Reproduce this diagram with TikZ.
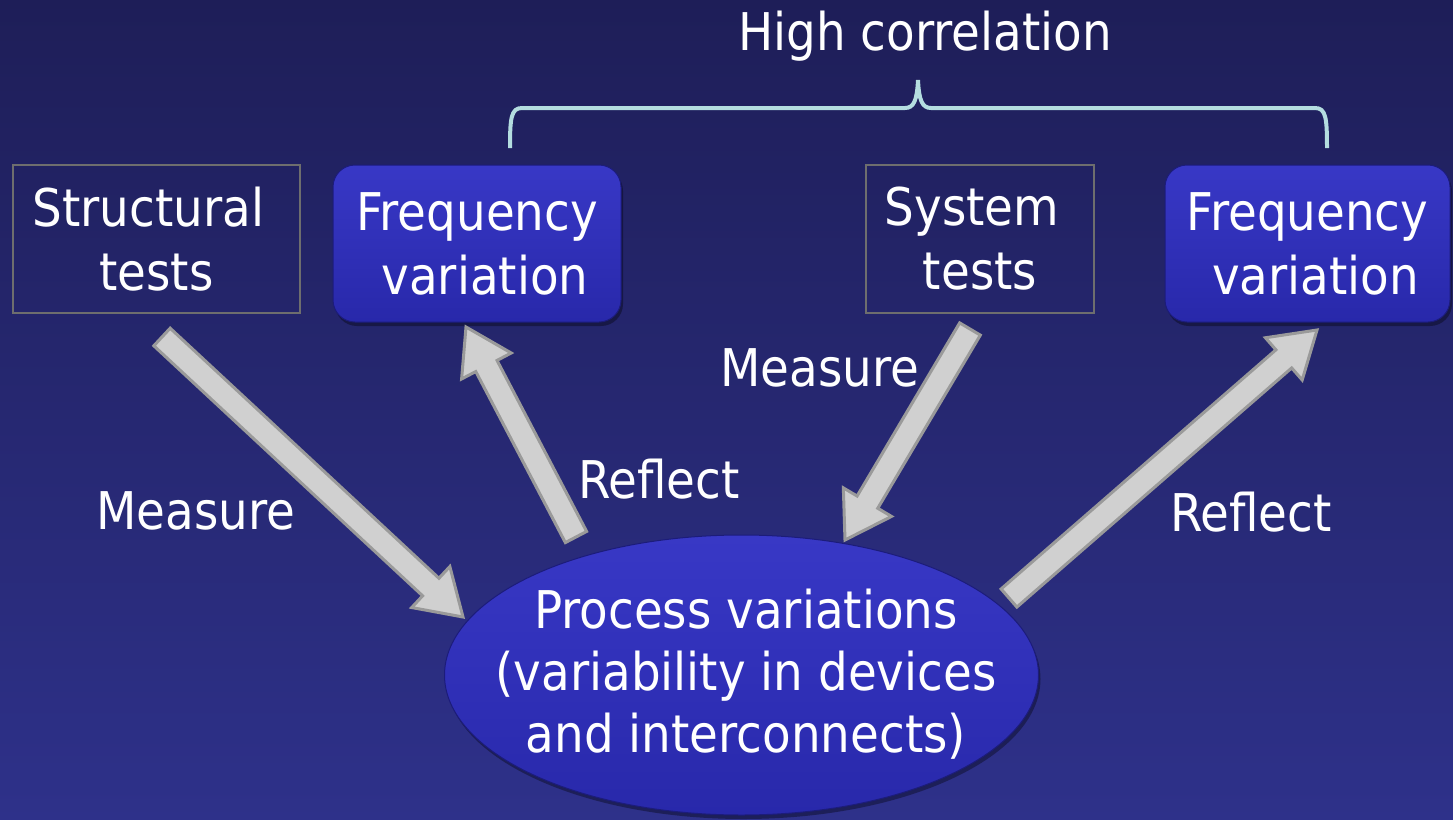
\documentclass[tikz,border=0pt]{standalone}
\usepackage{fontspec}
\setmainfont{DejaVu Sans}[FakeStretch=0.90]
\usetikzlibrary{calc,shadows,shapes.geometric}
\definecolor{bgtop}{HTML}{1E1E58}
\definecolor{bgbot}{HTML}{2E318A}
\definecolor{boxtop}{HTML}{3838C6}
\definecolor{boxbot}{HTML}{2828AA}
\definecolor{boxrim}{HTML}{1C1C7A}
\definecolor{framegray}{HTML}{6E6E6E}
\definecolor{arrfill}{HTML}{D0D0D0}
\definecolor{arrdraw}{HTML}{9A9A9A}
\definecolor{bracecol}{HTML}{B4DDE0}
\newcommand{\blockarrow}[2]{%
  \coordinate (neck) at ($(#2)!22pt!(#1)$);
  \draw[blockarr] ($(#1)!6pt!90:(#2)$) -- ($(neck)!6pt!90:(#2)$)
    -- ($(neck)!14pt!90:(#2)$) -- (#2) -- ($(neck)!14pt!-90:(#2)$)
    -- ($(neck)!6pt!-90:(#2)$) -- ($(#1)!6pt!-90:(#2)$) -- cycle;}
\begin{document}
\begin{tikzpicture}[x=0.5pt,y=-0.5pt,
  txt/.style={text=white, font=\fontsize{26}{32}\selectfont, inner sep=0pt, align=center},
  plainbox/.style={txt, draw=framegray, line width=0.75pt, minimum height=74pt},
  bluebox/.style={txt, rounded corners=11pt, draw=boxrim, line width=0.5pt,
     top color=boxtop, bottom color=boxbot, minimum height=78.5pt,
     drop shadow={shadow xshift=1pt, shadow yshift=-2pt, fill=black, opacity=0.35}},
  proc/.style={ellipse, draw=boxrim, line width=0.5pt, top color=boxtop, bottom color=boxbot,
     minimum width=297pt, minimum height=140pt, inner sep=0pt,
     drop shadow={shadow xshift=1pt, shadow yshift=-2pt, fill=black, opacity=0.35}},
  lbl/.style={text=white, font=\fontsize{26}{32}\selectfont, inner sep=0pt, anchor=base},
  blockarr/.style={fill=arrfill, draw=arrdraw, line width=1.5pt, line join=miter},
  bracestyle/.style={draw=bracecol, line width=2pt}]
\useasboundingbox (0,0) rectangle (1453,820);
\fill[top color=bgtop, bottom color=bgbot] (0,0) rectangle (1453,820);

% nodes
\node[plainbox, minimum width=143.5pt] (st) at (156.5,239) {Structural\hspace*{8pt}\\tests};
\node[bluebox, minimum width=144pt] (fv1) at (477,243.5) {Frequency\\\hspace*{8pt}variation};
\node[plainbox, minimum width=114pt] (sy) at (980,239) {System\hspace*{8pt}\\tests};
\node[bluebox, minimum width=142.5pt] (fv2) at (1307.5,243.5) {Frequency\\\hspace*{8pt}variation};
\node[proc] (pv) at (741.5,675) {};
\node[txt, font=\fontsize{26}{31}\selectfont] (pvt) at (746,674) {Process variations\\(variability in devices\\and interconnects)};

% brace
\node[lbl] (hc) at (925,50) {High correlation};
\coordinate (bl) at (510,148);
\coordinate (bc) at (918,80);
\coordinate (br) at (1327,148);
\draw[bracestyle] (bl) .. controls (510,118) and (511,108) .. (522,108) -- (905,108)
  .. controls (914,108) and (917,100) .. (bc)
  .. controls (919,100) and (922,108) .. (931,108) -- (1315,108)
  .. controls (1326,108) and (1327,118) .. (br);

% arrows
\coordinate (a1s) at (162,337); \coordinate (a1e) at (463,617);
\coordinate (a2s) at (576,537); \coordinate (a2e) at (466,327);
\coordinate (a3s) at (970,329); \coordinate (a3e) at (845,540);
\coordinate (a4s) at (1009,598); \coordinate (a4e) at (1317,330);
\blockarrow{a1s}{a1e}
\blockarrow{a2s}{a2e}
\blockarrow{a3s}{a3e}
\blockarrow{a4s}{a4e}

% labels
\node[lbl] (m1) at (196,529) {Measure};
\node[lbl] (r1) at (659,498) {Reflect};
\node[lbl] (m2) at (820,386) {Measure};
\node[lbl] (r2) at (1251,531) {Reflect};
\end{tikzpicture}
\end{document}
